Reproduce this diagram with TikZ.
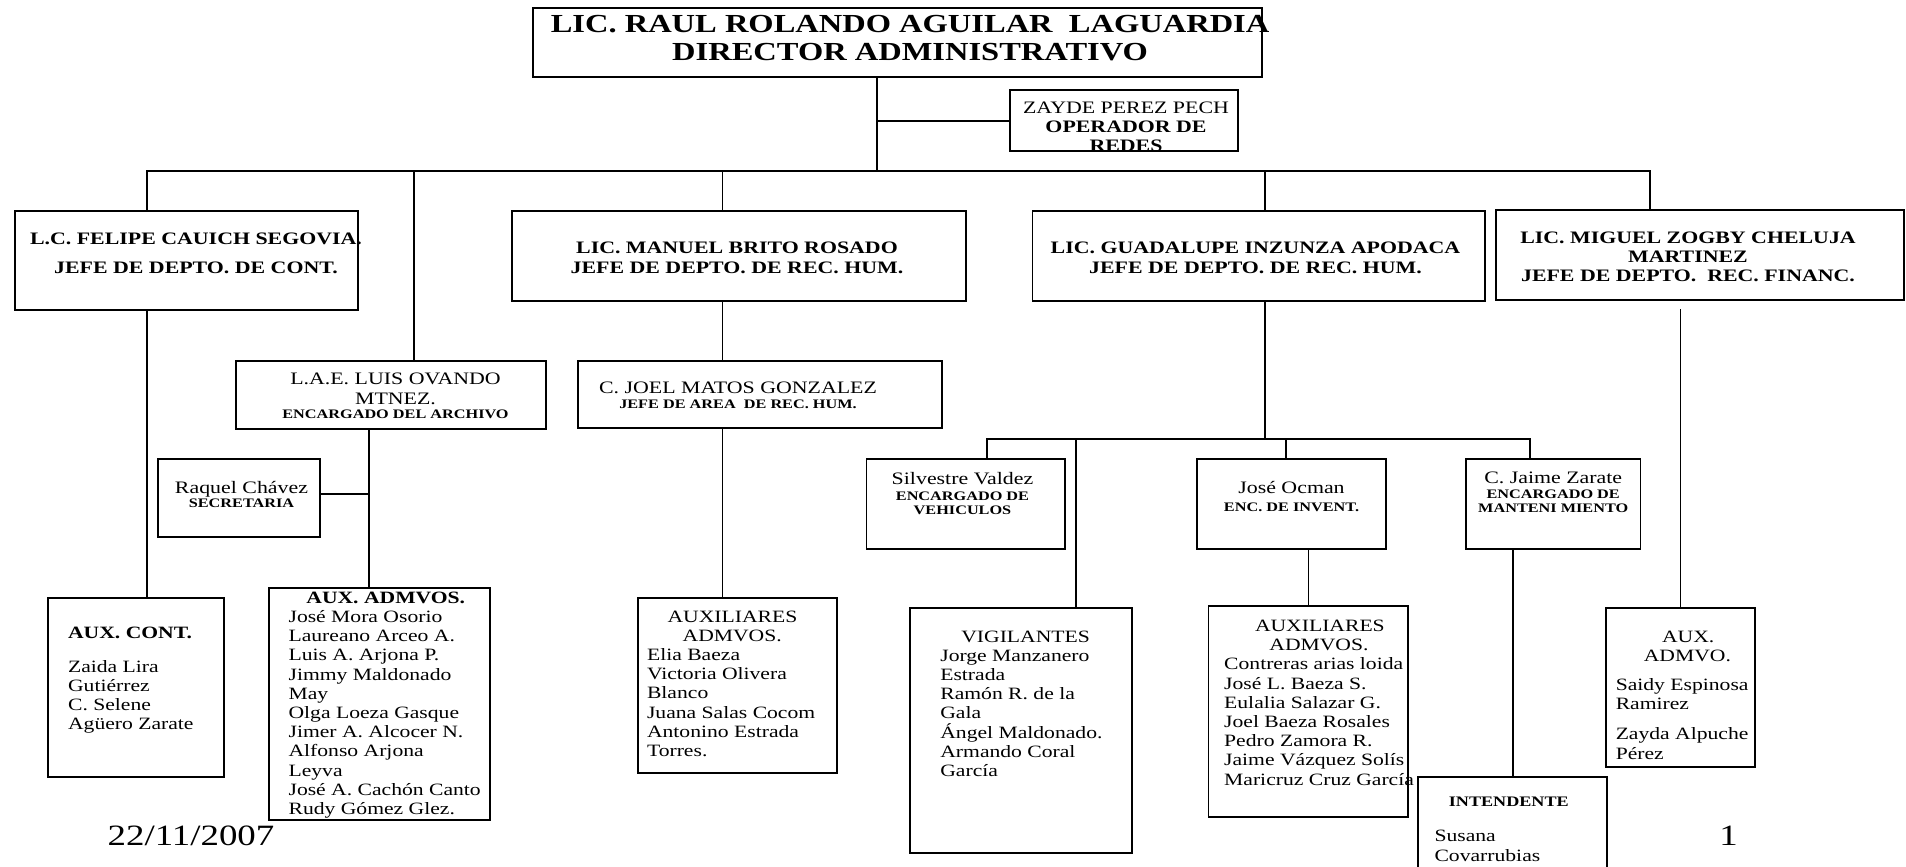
\documentclass[tikz,border=0pt]{standalone}
\usepackage{fontspec}
\setmainfont{Liberation Serif}[FakeStretch=1.25]
\usetikzlibrary{positioning}
\tikzset{
  orgnode/.style = {inner sep=0pt, outer sep=0pt},
  caja/.style = {orgnode, rectangle, draw=black, line width=1.8pt},% marco de puesto
  linea/.style = {line width=1.8pt, line cap=rect},% conector
  titulo/.style = {orgnode, align=center, font=\bfseries\fontsize{26}{28.5}\selectfont},
  jefe/.style = {orgnode, align=center, font=\bfseries\fontsize{17.5}{20}\selectfont},
  puesto/.style = {orgnode, align=center, font=\fontsize{17.5}{19.2}\selectfont},
  lista/.style = {orgnode, align=left, font=\fontsize{17.3}{19.2}\selectfont},% nombres
  pie/.style = {orgnode, font=\fontsize{29.5}{31}\selectfont}
}
\newcommand{\cargo}[1]{{\bfseries\fontsize{13}{14}\selectfont #1}}

\begin{document}
\begin{tikzpicture}[x=1pt, y=-1pt]
  \useasboundingbox (0,0) rectangle (1906,867);
  \clip (0,0) rectangle (1906,867);
  % direccion
  \node [caja, minimum width=729pt, minimum height=68.4pt] (dir) at (897.1,42.5) {};
  \node [titulo, anchor=north] (dir_t) at ([xshift=13pt, yshift=-6.7pt]dir.north)
    {LIC. RAUL ROLANDO AGUILAR\ \ LAGUARDIA\\DIRECTOR ADMINISTRATIVO};
  \node [caja, minimum width=228pt, minimum height=61pt] (zayde) at (1123.6,120.5) {};
  \node [puesto, anchor=north] (zayde_t) at ([xshift=2.4pt, yshift=-11.5pt]zayde.north)
    {ZAYDE PEREZ PECH\\\textbf{OPERADOR DE}\\\textbf{REDES}};
  % jefes de depto.
  \node [caja, minimum width=342.7pt, minimum height=99.3pt] (felipe) at (186.7,260.3) {};
  \node [jefe, anchor=north] (felipe_t) at ([xshift=9.3pt, yshift=-22.6pt]felipe.north)
    {L.C. FELIPE CAUICH SEGOVIA.\\[8.3pt]JEFE DE DEPTO. DE CONT.};
  \node [caja, minimum width=454pt, minimum height=90.3pt] (manuel) at (739,255.8) {};
  \node [jefe, anchor=north] (manuel_t) at ([xshift=-2pt, yshift=-31pt]manuel.north)
    {LIC. MANUEL BRITO ROSADO\\JEFE DE DEPTO. DE REC. HUM.};
  \node [caja, minimum width=452.8pt, minimum height=90.3pt] (guad) at (1258.8,255.8) {};
  \node [jefe, anchor=north] (guad_t) at ([xshift=-3.3pt, yshift=-31pt]guad.north)
    {LIC. GUADALUPE INZUNZA APODACA\\JEFE DE DEPTO. DE REC. HUM.};
  \node [caja, minimum width=408pt, minimum height=90pt] (miguel) at (1700.2,255) {};
  \node [jefe, anchor=north] (miguel_t) at ([xshift=-12.2pt, yshift=-21.7pt]miguel.north)
    {LIC. MIGUEL ZOGBY CHELUJA\\[-0.7pt]MARTINEZ\\[-0.7pt]JEFE DE DEPTO.\ \ REC. FINANC.};
  % encargados
  \node [caja, minimum width=310pt, minimum height=68.3pt] (luis) at (390.7,395.2) {};
  \node [puesto, anchor=north] (luis_t) at ([xshift=4.8pt, yshift=-12.3pt]luis.north)
    {L.A.E. LUIS OVANDO\\MTNEZ.\\[-5pt]\cargo{ENCARGADO DEL ARCHIVO}};
  \node [caja, minimum width=363.8pt, minimum height=67pt] (joel) at (759.7,394.2) {};
  \node [puesto, anchor=north] (joel_t) at ([xshift=-21.7pt, yshift=-21pt]joel.north)
    {C. JOEL MATOS GONZALEZ\\[-4pt]\cargo{JEFE DE AREA\ \ DE REC. HUM.}};
  \node [caja, minimum width=161.4pt, minimum height=78pt] (raquel) at (238.9,498.3) {};
  \node [puesto, anchor=north] (raquel_t) at ([xshift=2.6pt, yshift=-22pt]raquel.north)
    {Raquel Chávez\\[-5pt]\cargo{SECRETARIA}};
  \node [caja, minimum width=198.9pt, minimum height=89.7pt] (silv) at (965.9,504.2) {};
  \node [puesto, anchor=north] (silv_t) at ([xshift=-3.4pt, yshift=-13pt]silv.north)
    {Silvestre Valdez\\[-3.6pt]\cargo{ENCARGADO DE}\\[-5pt]\cargo{VEHICULOS}};
  \node [caja, minimum width=188.9pt, minimum height=89.7pt] (ocman) at (1291.5,504.2) {};
  \node [puesto, anchor=north] (ocman_t) at ([yshift=-22pt]ocman.north)
    {José Ocman\\[-1.6pt]\cargo{ENC. DE INVENT.}};
  \node [caja, minimum width=174.6pt, minimum height=89.7pt] (jaime) at (1553.2,504.2) {};
  \node [puesto, anchor=north] (jaime_t) at ([yshift=-13pt]jaime.north)
    {C. Jaime Zarate\\[-4.6pt]\cargo{ENCARGADO DE}\\[-5pt]\cargo{MANTENI MIENTO}};
  % auxiliares
  \node [caja, minimum width=176pt, minimum height=178.4pt] (auxc) at (136.3,687.5) {};
  \node [lista, anchor=north west] (auxc_t) at ([xshift=19.8pt, yshift=-29pt]auxc.north west)
    {\textbf{AUX. CONT.}\\[14.2pt]Zaida Lira\\Gutiérrez\\C. Selene\\Agüero Zarate};
  \node [caja, minimum width=221.4pt, minimum height=231.7pt] (auxa) at (379.3,704.2) {};
  \node [lista, anchor=north west] (auxa_t) at ([xshift=20pt, yshift=-3.4pt]auxa.north west)
    {\hspace*{17.8pt}\textbf{AUX. ADMVOS.}\\José Mora Osorio\\Laureano Arceo A.\\Luis A. Arjona P.\\
     Jimmy Maldonado\\May\\Olga Loeza Gasque\\Jimer A. Alcocer N.\\Alfonso Arjona\\Leyva\\
     José A. Cachón Canto\\Rudy Gómez Glez.};
  \node [caja, minimum width=198.9pt, minimum height=174.4pt] (auxrh) at (737.4,685.5) {};
  \node [lista, anchor=north west] (auxrh_t) at ([xshift=9.1pt, yshift=-12.4pt]auxrh.north west)
    {\hspace*{20.5pt}AUXILIARES\\\hspace*{35.6pt}ADMVOS.\\Elia Baeza\\Victoria Olivera\\Blanco\\
     Juana Salas Cocom\\Antonino Estrada\\Torres.};
  \node [caja, minimum width=221.5pt, minimum height=245pt] (vig) at (1021,730.2) {};
  \node [lista, anchor=north west] (vig_t) at ([xshift=30.1pt, yshift=-23pt]vig.north west)
    {\hspace*{21pt}VIGILANTES\\Jorge Manzanero\\Estrada\\Ramón R. de la\\Gala\\
     Ángel Maldonado.\\Armando Coral\\García};
  \node [caja, minimum width=199.8pt, minimum height=211pt] (aux3) at (1308.4,711.2) {};
  \node [lista, anchor=north west] (aux3_t) at ([xshift=15.7pt, yshift=-14.3pt]aux3.north west)
    {\hspace*{30.8pt}AUXILIARES\\\hspace*{45.2pt}ADMVOS.\\Contreras arias loida\\José L. Baeza S.\\
     Eulalia Salazar G.\\Joel Baeza Rosales\\Pedro Zamora R.\\Jaime Vázquez Solís\\Maricruz Cruz García};
  \node [caja, minimum width=148.5pt, minimum height=159pt] (admvo) at (1680.5,687.2) {};
  \node [lista, anchor=north west] (admvo_t) at ([xshift=9.5pt, yshift=-23pt]admvo.north west)
    {\hspace*{46.3pt}AUX.\\\hspace*{28.1pt}ADMVO.\\[10pt]Saidy Espinosa\\Ramirez\\[11pt]Zayda Alpuche\\Pérez};
  \node [caja, minimum width=188.9pt, minimum height=123.3pt] (intd) at (1512.8,838.4) {};
  \node [lista, anchor=north west] (intd_t) at ([xshift=16.2pt, yshift=-20pt]intd.north west)
    {\hspace*{14.3pt}\textbf{\fontsize{14.5}{15}\selectfont INTENDENTE}\\[16.5pt]Susana\\Covarrubias};
  % pie de pagina
  \node [pie, anchor=base] (fecha) at (191,845) {22/11/2007};
  \node [pie, anchor=base] (pagina) at (1728.5,845) {1};
  % conectores
  \coordinate (b_top) at (877,171);
  \coordinate (b_zayde) at (877,121);
  \coordinate (b_cont) at (147,171);
  \coordinate (b_arch) at (414,171);
  \coordinate (b_rh) at (722.5,171);
  \coordinate (b_inv) at (1264.7,171);
  \coordinate (b_fin) at (1650,171);
  \coordinate (s_inv) at (1264.7,439.3);
  \coordinate (s_veh) at (987,439.3);
  \coordinate (s_vig) at (1076,439.3);
  \coordinate (s_ocm) at (1286,439.3);
  \coordinate (s_mnt) at (1530,439.3);
  \coordinate (k_sec) at (368.6,494.3);
  \draw [linea] (dir.south -| b_top) -- (b_top);
  \draw [linea] (b_zayde) -- (b_zayde -| zayde.west);
  \draw [linea] (b_cont) -- (b_fin);
  \foreach \b/\n in {b_cont/felipe, b_arch/luis, b_rh/manuel, b_inv/guad, b_fin/miguel}
    \draw [linea] (\b) -- (\b |- \n.north);
  \draw [linea] (felipe.south -| b_cont) -- (auxc.north -| b_cont);
  \draw [linea] (luis.south -| k_sec) -- (auxa.north -| k_sec);
  \draw [linea] (raquel.east |- k_sec) -- (k_sec);
  \draw [linea] (manuel.south -| b_rh) -- (joel.north -| b_rh);
  \draw [linea] (joel.south -| b_rh) -- (auxrh.north -| b_rh);
  \draw [linea] (guad.south -| s_inv) -- (s_inv);
  \draw [linea] (s_veh) -- (s_mnt);
  \foreach \s/\n in {s_veh/silv, s_vig/vig, s_ocm/ocman, s_mnt/jaime}
    \draw [linea] (\s) -- (\s |- \n.north);
  \draw [linea] (aux3.north |- ocman.south) -- (aux3.north);
  \draw [linea] (intd.north |- jaime.south) -- (intd.north);
  \draw [linea, shorten <=10pt] (admvo.north |- miguel.south) -- (admvo.north);
\end{tikzpicture}
\end{document}
